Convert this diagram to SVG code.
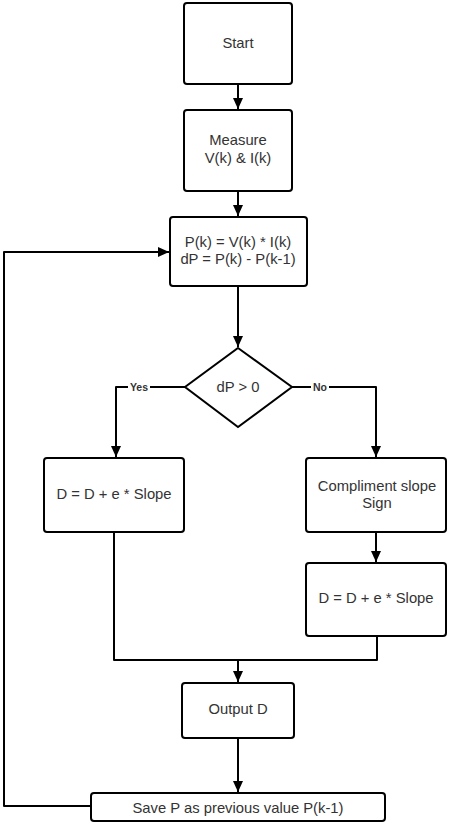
<svg xmlns="http://www.w3.org/2000/svg" width="450" height="826" viewBox="0 0 450 826">
  <style>
    .box { fill: #ffffff; stroke: #000000; stroke-width: 2; }
    .txt { font-family: "Liberation Sans", Arial, sans-serif; font-size: 14.8px; fill: #333333; text-anchor: middle; dominant-baseline: central; }
    .lbl { font-family: "Liberation Sans", Arial, sans-serif; font-size: 10.5px; font-weight: bold; fill: #333333; text-anchor: middle; dominant-baseline: central; }
    .edge { fill: none; stroke: #000000; stroke-width: 2; stroke-linejoin: round; }
  </style>
  <defs>
    <marker id="arrow" markerWidth="10" markerHeight="12" refX="11" refY="5" orient="auto" markerUnits="userSpaceOnUse">
      <path d="M0,0 L11,5 L0,10 Z" fill="#000000"/>
    </marker>
  </defs>
  <rect width="450" height="826" fill="#ffffff"/>

  <!-- connectors -->
  <g id="connectors">
    <path class="edge" d="M238,84 V109" marker-end="url(#arrow)"/>
    <path class="edge" d="M238,191 V216" marker-end="url(#arrow)"/>
    <path class="edge" d="M238,286 V347" marker-end="url(#arrow)"/>
    <path class="edge" d="M185,387 H116 V457" marker-end="url(#arrow)"/>
    <path class="edge" d="M292,387 H376 V457" marker-end="url(#arrow)"/>
    <path class="edge" d="M376,532 V562" marker-end="url(#arrow)"/>
    <path class="edge" d="M114,532 V660 H377 V636"/>
    <path class="edge" d="M238,660 V682" marker-end="url(#arrow)"/>
    <path class="edge" d="M238,738 V792" marker-end="url(#arrow)"/>
    <path class="edge" d="M91,806 H4 V252 H169" marker-end="url(#arrow)"/>
    <rect x="128" y="381" width="22" height="12" fill="#ffffff"/>
    <text class="lbl" x="139" y="387">Yes</text>
    <rect x="311" y="381" width="18" height="12" fill="#ffffff"/>
    <text class="lbl" x="320" y="387">No</text>
  </g>

  <g id="start">
    <rect class="box" x="184" y="3" width="108" height="81" rx="3"/>
    <text class="txt" x="238" y="43">Start</text>
  </g>

  <g id="measure">
    <rect class="box" x="184" y="110" width="108" height="81" rx="3"/>
    <text class="txt" x="238" y="140">Measure</text>
    <text class="txt" x="238" y="158">V(k) &amp; I(k)</text>
  </g>

  <g id="compute">
    <rect class="box" x="170" y="217" width="137" height="69" rx="3"/>
    <text class="txt" x="238" y="242">P(k) = V(k) * I(k)</text>
    <text class="txt" x="238" y="259">dP = P(k) - P(k-1)</text>
  </g>

  <g id="decision">
    <polygon class="box" points="238,348 292,387 238,427 185,387"/>
    <text class="txt" x="238" y="387">dP &gt; 0</text>
  </g>

  <g id="update-yes">
    <rect class="box" x="44" y="458" width="140" height="74" rx="3"/>
    <text class="txt" x="114" y="494">D = D + e * Slope</text>
  </g>

  <g id="compliment">
    <rect class="box" x="306" y="458" width="140" height="74" rx="3"/>
    <text class="txt" x="377" y="486">Compliment slope</text>
    <text class="txt" x="377" y="503">Sign</text>
  </g>

  <g id="update-no">
    <rect class="box" x="306" y="563" width="140" height="73" rx="3"/>
    <text class="txt" x="376" y="598">D = D + e * Slope</text>
  </g>

  <g id="output">
    <rect class="box" x="182" y="683" width="112" height="55" rx="3"/>
    <text class="txt" x="238" y="709">Output D</text>
  </g>

  <g id="save">
    <rect class="box" x="91" y="793" width="294" height="28" rx="3"/>
    <text class="txt" x="238" y="808">Save P as previous value P(k-1)</text>
  </g>
</svg>
